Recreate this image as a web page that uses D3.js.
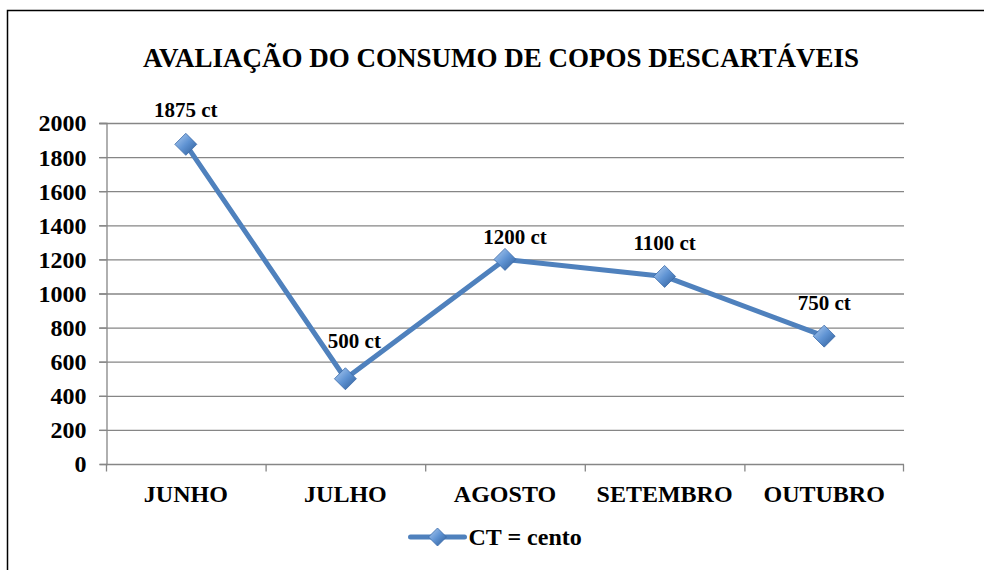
<!DOCTYPE html>
<head>
  <meta charset="utf-8">
  <script src="https://d3js.org/d3.v7.min.js"></script>
  <style>
    body { margin:0; background:#fff; }
  </style>
</head>
<body>
  <script>
    var months = ["JUNHO", "JULHO", "AGOSTO", "SETEMBRO", "OUTUBRO"];
    var values = [1875, 500, 1200, 1100, 750];
    var labels = ["1875 ct", "500 ct", "1200 ct", "1100 ct", "750 ct"];
    var yTicks = [0, 200, 400, 600, 800, 1000, 1200, 1400, 1600, 1800, 2000];
    var title = "AVALIAÇÃO DO CONSUMO DE COPOS DESCARTÁVEIS";
    var legendLabel = "CT = cento";
    // hand nudges of the data labels (as placed in the original)
    var labelDx = [0, 9, 10, 0, 0];
    var labelDy = [-27, -31, -15, -26, -26];

    var FONT = "'Liberation Serif', 'Times New Roman', Times, serif";
    var W = 984, H = 570;
    var margin = { top: 123, right: 80, bottom: 106, left: 106 };
    var width = W - margin.left - margin.right;
    var height = H - margin.top - margin.bottom;

    var svg = d3.select("body").append("svg")
      .attr("width", W)
      .attr("height", H)
      .style("font-family", FONT)
      .style("font-weight", "bold");

    var defs = svg.append("defs");
    var grad = defs.append("linearGradient")
      .attr("id", "dia")
      .attr("x1", "0").attr("y1", "0").attr("x2", "1").attr("y2", "1");
    grad.append("stop").attr("offset", "0").attr("stop-color", "#b4d0f2");
    grad.append("stop").attr("offset", "0.5").attr("stop-color", "#5f93d3");
    grad.append("stop").attr("offset", "1").attr("stop-color", "#2c5a95");

    // outer border (left + top only)
    svg.append("path")
      .attr("d", "M7.5,570 L7.5,10.5 L984,10.5")
      .attr("fill", "none").attr("stroke", "#000").attr("stroke-width", 1.5);

    svg.append("text")
      .attr("x", 501).attr("y", 67)
      .attr("text-anchor", "middle")
      .style("font-family", FONT)
      .style("font-size", "27px")
      .text(title);

    var g = svg.append("g")
      .attr("transform", "translate(" + margin.left + "," + margin.top + ")");

    var x = d3.scaleBand().domain(months).range([0, width]);
    var y = d3.scaleLinear().domain([0, 2000]).range([height, 0]);

    // gridlines
    g.append("g")
      .selectAll("line")
      .data(yTicks.filter(function(d) { return d > 0; }))
      .enter().append("line")
      .attr("x1", -7).attr("x2", width)
      .attr("y1", function(d) { return y(d) + 0.5; })
      .attr("y2", function(d) { return y(d) + 0.5; })
      .attr("stroke", "#868686").attr("stroke-width", 1.3);

    var yAxis = g.append("g")
      .attr("transform", "translate(0.5,0)")
      .call(d3.axisLeft(y).tickValues(yTicks).tickFormat(d3.format("d")).tickSize(7).tickPadding(13));
    yAxis.attr("font-family", null).attr("font-size", null);
    yAxis.select(".domain").attr("stroke", "#868686").attr("stroke-width", 1.3);
    yAxis.selectAll(".tick line").attr("stroke", "#868686").attr("stroke-width", 1.3);
    yAxis.selectAll("text")
      .style("font-family", FONT).style("font-size", "24px")
      .attr("fill", "#000").attr("dy", "0.33em");

    // x axis with ticks at band boundaries
    var xAxisG = g.append("g").attr("transform", "translate(0," + (height + 0.5) + ")");
    xAxisG.append("line")
      .attr("x1", 0).attr("x2", width)
      .attr("stroke", "#868686").attr("stroke-width", 1.3);
    xAxisG.selectAll(".bt")
      .data(months.concat(["_end"]))
      .enter().append("line")
      .attr("class", "bt")
      .attr("x1", function(d, i) { return i < months.length ? x(d) + 0.5 : width - 0.5; })
      .attr("x2", function(d, i) { return i < months.length ? x(d) + 0.5 : width - 0.5; })
      .attr("y1", 0).attr("y2", 7)
      .attr("stroke", "#868686").attr("stroke-width", 1.3);
    xAxisG.selectAll(".cl")
      .data(months)
      .enter().append("text")
      .attr("x", function(d) { return x(d) + x.bandwidth() / 2; })
      .attr("y", 37)
      .attr("text-anchor", "middle")
      .style("font-family", FONT)
      .style("font-size", "24px")
      .text(function(d) { return d; });

    var cx = function(d, i) { return x(months[i]) + x.bandwidth() / 2; };

    var line = d3.line()
      .x(function(d, i) { return cx(d, i); })
      .y(function(d) { return y(d); });

    g.append("path")
      .datum(values)
      .attr("d", line)
      .attr("fill", "none")
      .attr("stroke", "#4f81bd")
      .attr("stroke-width", 5)
      .attr("stroke-linejoin", "round");

    var diamond = function(r) { return "M0," + (-r) + " L" + r + ",0 L0," + r + " L" + (-r) + ",0 Z"; };

    g.selectAll(".mk")
      .data(values)
      .enter().append("path")
      .attr("class", "mk")
      .attr("transform", function(d, i) { return "translate(" + cx(d, i) + "," + y(d) + ")"; })
      .attr("d", diamond(11))
      .attr("fill", "url(#dia)")
      .attr("stroke", "#3a6aa8").attr("stroke-width", 0.8);

    g.selectAll(".dl")
      .data(values)
      .enter().append("text")
      .attr("class", "dl")
      .attr("x", function(d, i) { return cx(d, i) + labelDx[i]; })
      .attr("y", function(d, i) { return y(d) + labelDy[i]; })
      .attr("text-anchor", "middle")
      .style("font-family", FONT)
      .style("font-size", "21px")
      .text(function(d, i) { return labels[i]; });

    // legend
    var lg = svg.append("g").attr("transform", "translate(437.5,537)");
    lg.append("line")
      .attr("x1", -27).attr("x2", 27)
      .attr("stroke", "#4f81bd").attr("stroke-width", 5).attr("stroke-linecap", "round");
    lg.append("path").attr("d", diamond(9)).attr("fill", "url(#dia)")
      .attr("stroke", "#3a6aa8").attr("stroke-width", 0.8);
    lg.append("text")
      .attr("x", 31).attr("y", 8)
      .style("font-family", FONT)
      .style("font-size", "24px")
      .text(legendLabel);
  </script>
</body>
